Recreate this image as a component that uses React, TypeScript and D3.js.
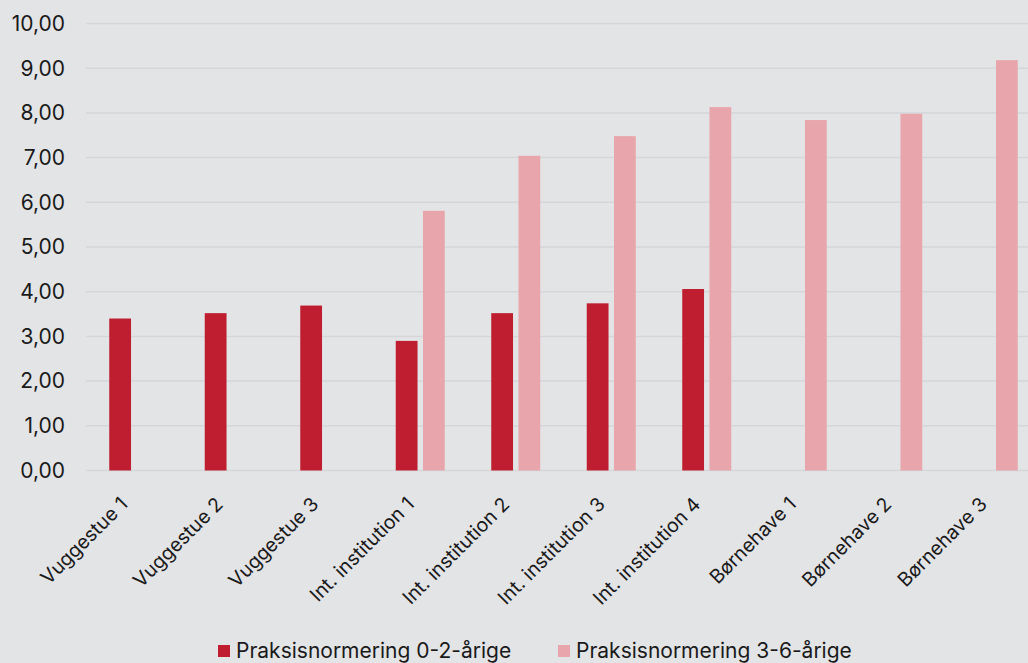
import { useEffect, useRef } from "react";
import * as d3 from "d3";

const categories = [
  "Vuggestue 1",
  "Vuggestue 2",
  "Vuggestue 3",
  "Int. institution 1",
  "Int. institution 2",
  "Int. institution 3",
  "Int. institution 4",
  "Børnehave 1",
  "Børnehave 2",
  "Børnehave 3",
];

const seriesNames = ["Praksisnormering 0-2-årige", "Praksisnormering 3-6-årige"];

// null = ingen søjle for kategorien
const values02: (number | null)[] = [3.4, 3.52, 3.69, 2.9, 3.52, 3.74, 4.06, null, null, null];
const values36: (number | null)[] = [null, null, null, 5.81, 7.04, 7.48, 8.13, 7.84, 7.98, 9.18];

const yTicks = [0, 1, 2, 3, 4, 5, 6, 7, 8, 9, 10];

const colors = ["#be1e2f", "#e8a6ac"];

export default function App() {
  const ref = useRef<SVGSVGElement | null>(null);

  useEffect(() => {
    document.body.style.margin = "0";
    const width = 1028;
    const height = 663;
    const margin = { top: 23.5, left: 86, bottom: 192.5 };

    const svg = d3.select(ref.current);
    svg.selectAll("*").remove();

    svg.append("rect").attr("width", width).attr("height", height).attr("fill", "#e3e4e6");

    const x0 = d3
      .scaleBand()
      .domain(categories)
      .range([margin.left, margin.left + 955]);

    const x1 = d3
      .scaleBand()
      .domain(seriesNames)
      .range([-24.5, 24.5])
      .paddingInner(0.2);

    const y = d3
      .scaleLinear()
      .domain([0, 10])
      .range([height - margin.bottom, margin.top]);

    // gridlines
    svg
      .append("g")
      .selectAll("line")
      .data(yTicks)
      .enter()
      .append("line")
      .attr("x1", margin.left)
      .attr("x2", width)
      .attr("y1", (d) => y(d))
      .attr("y2", (d) => y(d))
      .attr("stroke", "#d5d6d8")
      .attr("stroke-width", 1.5);

    // y labels
    svg
      .append("g")
      .selectAll("text")
      .data(yTicks)
      .enter()
      .append("text")
      .attr("x", 65)
      .attr("y", (d) => y(d))
      .attr("dy", "0.35em")
      .attr("text-anchor", "end")
      .style("font-family", "Inter, sans-serif")
      .style("font-size", "21px")
      .style("fill", "#1a1a1a")
      .text((d) => d3.format(".2f")(d).replace(".", ","));

    const data = [values02, values36];

    data.forEach((vals, si) => {
      const rows = categories
        .map((c, i) => ({ c, v: vals[i] }))
        .filter((d) => d.v !== null) as { c: string; v: number }[];
      svg
        .append("g")
        .selectAll("rect")
        .data(rows)
        .enter()
        .append("rect")
        .attr("x", (d) => (x0(d.c) as number) + x0.bandwidth() / 2 + (x1(seriesNames[si]) as number))
        .attr("width", x1.bandwidth())
        .attr("y", (d) => y(d.v))
        .attr("height", (d) => y(0) - y(d.v))
        .attr("fill", colors[si]);
    });

    // x labels
    svg
      .append("g")
      .selectAll("text")
      .data(categories)
      .enter()
      .append("text")
      .attr(
        "transform",
        (d) => `translate(${(x0(d) as number) + x0.bandwidth() / 2 - 5},${y(0) + 35}) rotate(-45)`
      )
      .attr("text-anchor", "end")
      .style("font-family", "Inter, sans-serif")
      .style("font-size", "19.5px")
      .style("fill", "#1a1a1a")
      .text((d) => d);

    // legend
    const legendX = [218, 558];
    const legend = svg
      .append("g")
      .selectAll("g")
      .data(seriesNames)
      .enter()
      .append("g")
      .attr("transform", (_, i) => `translate(${legendX[i]},645)`);

    legend
      .append("rect")
      .attr("width", 12)
      .attr("height", 12)
      .attr("fill", (_, i) => colors[i]);

    legend
      .append("text")
      .attr("x", 18)
      .attr("y", 6)
      .attr("dy", "0.35em")
      .style("font-family", "Inter, sans-serif")
      .style("font-size", "21px")
      .style("fill", "#1a1a1a")
      .text((d) => d);
  }, []);

  return (
    <svg
      ref={ref}
      width={1028}
      height={663}
      style={{ position: "absolute", left: 0, top: 0, display: "block" }}
    />
  );
}
